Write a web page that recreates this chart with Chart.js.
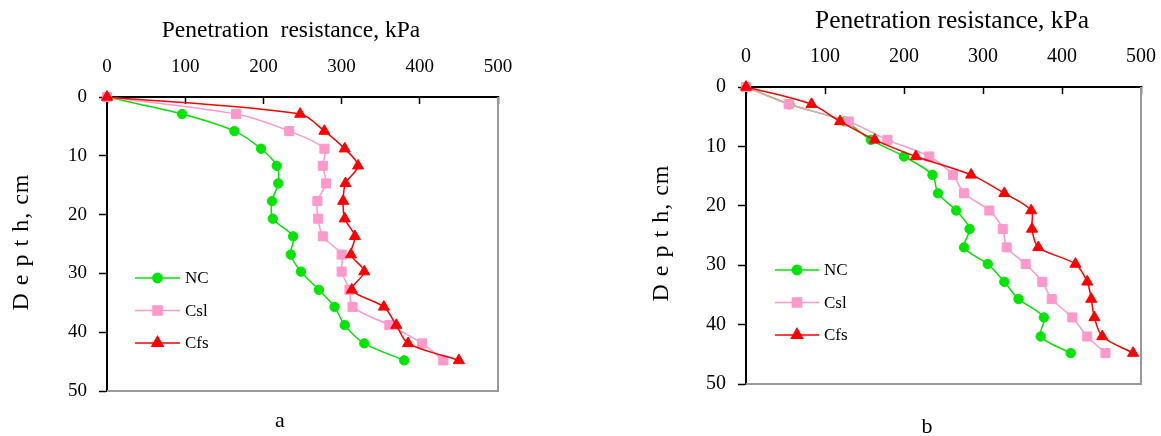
<!DOCTYPE html>
<html>
<head>
<meta charset="utf-8">
<script src="https://cdn.jsdelivr.net/npm/chart.js"></script>
<style>
  html, body { margin: 0; padding: 0; background: #fff; }
  #wrap { position: relative; width: 1161px; height: 436px; }
  canvas { position: absolute; top: 0; }
  #cA { left: 0; }
  #cB { left: 560px; }
</style>
</head>
<body>
<div id="wrap">
  <canvas id="cA" width="560" height="436"></canvas>
  <canvas id="cB" width="601" height="436"></canvas>
</div>
<script>
// depth of each reading, cm
const depthA = [0, 2.9, 5.8, 8.8, 11.7, 14.7, 17.7, 20.7, 23.7, 26.8, 29.7, 32.8, 35.7, 38.8, 41.9, 44.8];
const depthB = [0, 2.9, 5.8, 8.9, 11.7, 14.8, 17.9, 20.8, 23.9, 27.0, 29.8, 32.8, 35.7, 38.8, 42.0, 44.8];

// penetration resistance, kPa (panel a)
const ncA  = [0, 96, 163, 197, 217, 219, 211, 212, 238, 235, 248, 271, 291, 304, 329, 380];
const cslA = [0, 165, 233, 278, 276, 280, 269, 270, 276, 300, 300, 310, 314, 361, 403, 430];
const cfsA = [0, 247, 278, 304, 321, 305, 302, 304, 317, 312, 329, 313, 354, 370, 385, 450];

// penetration resistance, kPa (panel b)
const ncB  = [0, 55, 125, 158, 200, 236, 243, 266, 283, 276, 306, 327, 345, 377, 373, 411];
const cslB = [0, 54, 130, 179, 232, 262, 276, 308, 325, 330, 354, 375, 387, 413, 432, 455];
const cfsB = [0, 83, 119, 163, 215, 285, 327, 361, 362, 370, 417, 432, 437, 441, 451, 490];

const seriesNames = ['NC', 'Csl', 'Cfs'];
const xTicks = [0, 100, 200, 300, 400, 500];
const yTicks = [0, 10, 20, 30, 40, 50];

const SERIF = '"Liberation Serif", "Times New Roman", serif';
const styles = [
  { color: '#00e600', pointStyle: 'circle',   radius: 4.7 },
  { color: '#ff99cc', pointStyle: 'rect',     radius: 6.4 },
  { color: '#ff0000', pointStyle: 'triangle', radius: 6.4 }
];

function makeSet(i, depth, vals) {
  const s = styles[i];
  return {
    label: seriesNames[i],
    data: depth.map((d, k) => ({ x: vals[k], y: d })),
    showLine: true,
    clip: false,
    borderColor: s.color,
    backgroundColor: s.color,
    borderWidth: 1.5,
    pointStyle: s.pointStyle,
    pointRadius: s.radius,
    pointBorderWidth: 1,
    tension: 0.3,
    order: 3 - i
  };
}

// grey right/bottom frame of the plot area
const frame = {
  id: 'frame',
  beforeDatasetsDraw(chart) {
    const { ctx, chartArea: a } = chart;
    ctx.save();
    ctx.strokeStyle = '#999999';
    ctx.lineWidth = 2;
    ctx.beginPath();
    ctx.moveTo(a.left, a.bottom);
    ctx.lineTo(a.right, a.bottom);
    ctx.lineTo(a.right, a.top);
    ctx.stroke();
    ctx.restore();
  }
};

// axis captions, panel letter and the legend box
const extras = {
  id: 'extras',
  afterDraw(chart, args, opts) {
    const ctx = chart.ctx;
    ctx.save();
    ctx.fillStyle = '#000';
    opts.texts.forEach(t => {
      ctx.save();
      ctx.font = t.font + ' ' + SERIF;
      if (t.spacing) ctx.letterSpacing = t.spacing;
      ctx.textAlign = 'center';
      ctx.textBaseline = 'alphabetic';
      ctx.translate(t.x, t.y);
      if (t.rot) ctx.rotate(t.rot);
      ctx.fillText(t.text, 0, 0);
      ctx.restore();
    });
    const L = opts.legend;
    seriesNames.forEach((name, i) => {
      const s = styles[i];
      const y = L.top + i * L.gap;
      ctx.strokeStyle = s.color;
      ctx.lineWidth = 1.5;
      ctx.beginPath();
      ctx.moveTo(L.x0, y);
      ctx.lineTo(L.x1, y);
      ctx.stroke();
      ctx.fillStyle = s.color;
      Chart.helpers.drawPoint(ctx, { pointStyle: s.pointStyle, radius: s.radius, borderWidth: 1, rotation: 0 },
        (L.x0 + L.x1) / 2, y);
      ctx.fillStyle = '#000';
      ctx.font = L.font + ' ' + SERIF;
      ctx.textAlign = 'left';
      ctx.textBaseline = 'middle';
      ctx.fillText(name, L.x1 + 5, y + 1);
    });
    ctx.restore();
  }
};

function makeChart(el, sets, box, tickSize, texts, legend) {
  return new Chart(el, {
    type: 'scatter',
    data: { datasets: sets },
    plugins: [frame, extras],
    options: {
      responsive: false,
      animation: false,
      devicePixelRatio: 1,
      layout: { autoPadding: false, padding: { left: 0, top: 0, right: box.right, bottom: box.bottom } },
      plugins: {
        legend: { display: false },
        tooltip: { enabled: false },
        extras: { texts: texts, legend: legend }
      },
      scales: {
        x: {
          type: 'linear',
          position: 'top',
          min: 0, max: 500,
          afterBuildTicks: s => { s.ticks = xTicks.map(v => ({ value: v })); },
          afterFit: s => { s.height = box.top; s.paddingLeft = 0; s.paddingRight = 0; },
          ticks: { color: '#000', padding: box.xPad, font: { family: SERIF, size: tickSize } },
          grid: { drawOnChartArea: false, tickLength: -7, tickColor: '#000', tickWidth: 1.5 },
          border: { color: '#000', width: 2 }
        },
        y: {
          type: 'linear',
          reverse: true,
          min: 0, max: 50,
          afterBuildTicks: s => { s.ticks = yTicks.map(v => ({ value: v })); },
          afterFit: s => { s.width = box.left; s.paddingTop = 0; s.paddingBottom = 0; },
          ticks: { color: '#000', padding: box.yPad, font: { family: SERIF, size: tickSize } },
          grid: { drawOnChartArea: false, tickLength: 8, tickColor: '#000', tickWidth: 1.5 },
          border: { color: '#000', width: 2 }
        }
      }
    }
  });
}

makeChart(document.getElementById('cA'),
  [makeSet(0, depthA, ncA), makeSet(1, depthA, cslA), makeSet(2, depthA, cfsA)],
  { left: 107, top: 97, right: 62, bottom: 45, xPad: 26, yPad: 12 },
  19,
  [
    { text: 'Penetration  resistance, kPa', x: 291, y: 37, font: '23.5px' },
    { text: 'D e p t h, cm', x: 28, y: 242, font: '24px', rot: -Math.PI / 2, spacing: '1px' },
    { text: 'a', x: 280, y: 427, font: '22px' }
  ],
  { x0: 135, x1: 180, top: 278, gap: 32.5, font: '17px' });

makeChart(document.getElementById('cB'),
  [makeSet(0, depthB, ncB), makeSet(1, depthB, cslB), makeSet(2, depthB, cfsB)],
  { left: 186, top: 87, right: 20, bottom: 52, xPad: 25, yPad: 12 },
  20,
  [
    { text: 'Penetration resistance, kPa', x: 392, y: 28, font: '25.5px' },
    { text: 'D e p t h, cm', x: 108, y: 233, font: '24px', rot: -Math.PI / 2, spacing: '1px' },
    { text: 'b', x: 367, y: 433, font: '22px' }
  ],
  { x0: 215, x1: 259, top: 270, gap: 32.5, font: '17px' });
</script>
</body>
</html>
